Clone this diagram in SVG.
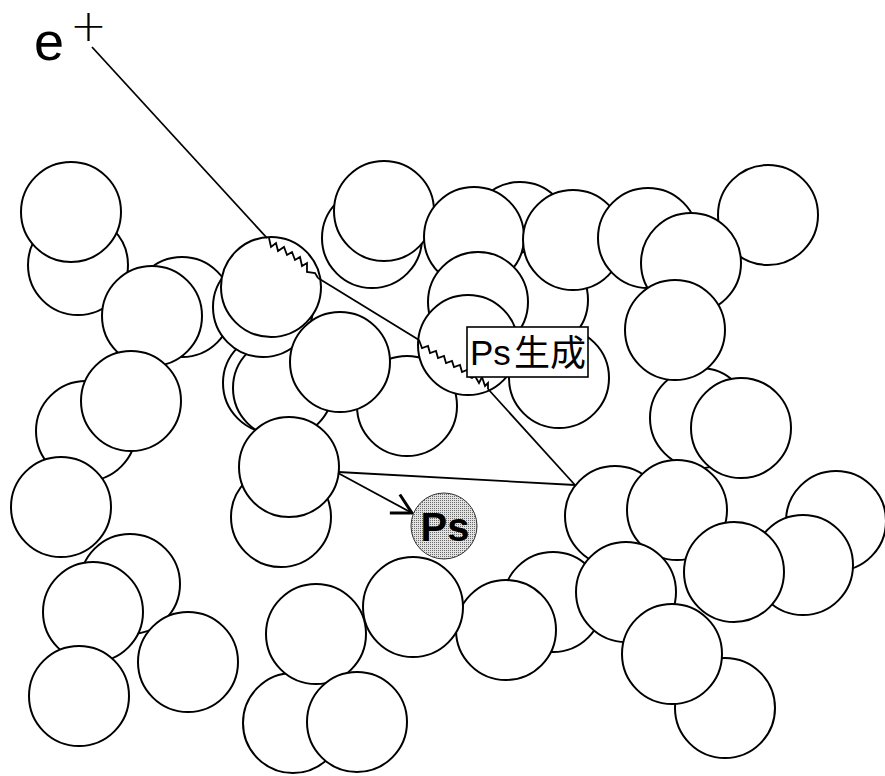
<svg xmlns="http://www.w3.org/2000/svg" width="885" height="776" viewBox="0 0 885 776">
  <style>
    .p { fill: #fff; stroke: #000; stroke-width: 2; }
    .trk { fill: none; stroke: #000; stroke-width: 1.8; stroke-linejoin: miter; }
    .lbl { font-family: "Liberation Sans", Arial, sans-serif; fill: #000; }
    .cjk { font-family: "Noto Sans CJK JP", "Noto Sans CJK SC", sans-serif; fill: #000; }
  </style>
  <defs>
    <pattern id="dots" width="2" height="2" patternUnits="userSpaceOnUse">
      <rect width="2" height="2" fill="#e2e2e2"/>
      <rect width="1" height="1" fill="#6a6a6a"/>
    </pattern>
    <marker id="head" markerUnits="userSpaceOnUse" markerWidth="30" markerHeight="30" refX="0" refY="0" viewBox="-16 -10 20 20" orient="auto" overflow="visible">
      <path d="M-13,-7 L0,0 L-13,7" fill="none" stroke="#000" stroke-width="2"/>
    </marker>
  </defs>

  <!-- particles, back to front -->
  <g id="particles">
    <circle id="n01" class="p" cx="78" cy="265" r="50"/>
    <circle id="n02" class="p" cx="71" cy="212" r="50"/>
    <circle id="n03" class="p" cx="182" cy="307" r="50"/>
    <circle id="n04" class="p" cx="152" cy="316" r="50"/>
    <circle id="n05" class="p" cx="86" cy="431" r="50"/>
    <circle id="n06" class="p" cx="131" cy="401" r="50"/>
    <circle id="n07" class="p" cx="61" cy="507" r="50"/>
    <circle id="n08" class="p" cx="130" cy="584" r="50"/>
    <circle id="n09" class="p" cx="93" cy="612" r="50"/>
    <circle id="n10" class="p" cx="79" cy="696" r="50"/>
    <circle id="n11" class="p" cx="188" cy="662" r="50"/>
    <circle id="n12" class="p" cx="273" cy="383" r="50"/>
    <circle id="n13" class="p" cx="283" cy="388" r="50"/>
    <circle id="n14" class="p" cx="263" cy="307" r="50"/>
    <circle id="n15" class="p" cx="271" cy="287" r="50"/>
    <circle id="n16" class="p" cx="407" cy="406" r="50"/>
    <circle id="n17" class="p" cx="340" cy="362" r="50"/>
    <circle id="n18" class="p" cx="281" cy="517" r="50"/>
    <circle id="n19" class="p" cx="289" cy="467" r="50"/>
    <circle id="n20" class="p" cx="293" cy="723" r="50"/>
    <circle id="n21" class="p" cx="316" cy="634" r="50"/>
    <circle id="n22" class="p" cx="357" cy="722" r="50"/>
    <circle id="n23" class="p" cx="553" cy="602" r="50"/>
    <circle id="n24" class="p" cx="506" cy="630" r="50"/>
    <circle id="n25" class="p" cx="413" cy="607" r="50"/>
    <circle id="n26" class="p" cx="372" cy="238" r="50"/>
    <circle id="n27" class="p" cx="384" cy="211" r="50"/>
    <circle id="n28" class="p" cx="520" cy="232" r="50"/>
    <circle id="n29" class="p" cx="538" cy="300" r="50"/>
    <circle id="n30" class="p" cx="474" cy="237" r="50"/>
    <circle id="n31" class="p" cx="478" cy="302" r="50"/>
    <circle id="n32" class="p" cx="468" cy="345" r="50"/>
    <circle id="n33" class="p" cx="559" cy="378" r="50"/>
    <circle id="n34" class="p" cx="573" cy="240" r="50"/>
    <circle id="n35" class="p" cx="768" cy="215" r="50"/>
    <circle id="n36" class="p" cx="648" cy="238" r="50"/>
    <circle id="n37" class="p" cx="691" cy="263" r="50"/>
    <circle id="n38" class="p" cx="700" cy="418" r="50"/>
    <circle id="n39" class="p" cx="675" cy="330" r="50"/>
    <circle id="n40" class="p" cx="741" cy="428" r="50"/>
    <circle id="n41" class="p" cx="615" cy="516" r="50"/>
    <circle id="n42" class="p" cx="677" cy="510" r="50"/>
    <circle id="n43" class="p" cx="626" cy="592" r="50"/>
    <circle id="n44" class="p" cx="725" cy="708" r="50"/>
    <circle id="n45" class="p" cx="672" cy="654" r="50"/>
    <circle id="n46" class="p" cx="836" cy="521" r="50"/>
    <circle id="n47" class="p" cx="803" cy="565" r="50"/>
    <circle id="n48" class="p" cx="734" cy="572" r="50"/>
  </g>

  <!-- positron track and Ps path -->
  <g id="connectors">
    <line class="trk" x1="92" y1="47" x2="267" y2="238"/>
    <polyline class="trk" points="269,238 271,247 276,243 278,251 284,247 287,255 292,252 295,260 300,257 302,266 307,263 307,272 315,273 318,278"/>
    <line class="trk" x1="318" y1="278" x2="419" y2="340"/>
    <polyline class="trk" points="419,340 422,348 428,346 430,353 436,351 438,358 444,356 446,363 452,361 454,367 460,365 462,372 467,370 470,377 472,378 475,376 479,383 482,377 485,386 488,383 488,389"/>
    <line class="trk" x1="488" y1="389" x2="575" y2="485"/>
    <line class="trk" x1="575" y1="485" x2="338" y2="472"/>
    <line class="trk" x1="338" y1="473" x2="412" y2="513" marker-end="url(#head)"/>
  </g>

  <!-- formation label -->
  <g id="ps-formation">
    <rect x="467" y="327" width="121" height="50" fill="#fff" stroke="#000" stroke-width="1.6"/>
    <text class="lbl" x="470" y="365" font-size="35">Ps</text>
    <text class="cjk" x="514" y="366" font-size="36">生成</text>
  </g>

  <!-- positronium -->
  <g id="ps">
    <circle cx="444" cy="526" r="33" fill="url(#dots)" stroke="#333" stroke-width="1"/>
    <text class="lbl" x="445" y="541" font-size="40" font-weight="bold" text-anchor="middle">Ps</text>
  </g>

  <!-- incident positron -->
  <g id="positron">
    <text class="lbl" x="34" y="60" font-size="54">e</text>
    <text x="70" y="41" font-size="44" font-weight="200" font-family="'DejaVu Sans', 'Liberation Sans', sans-serif">+</text>
  </g>
</svg>
